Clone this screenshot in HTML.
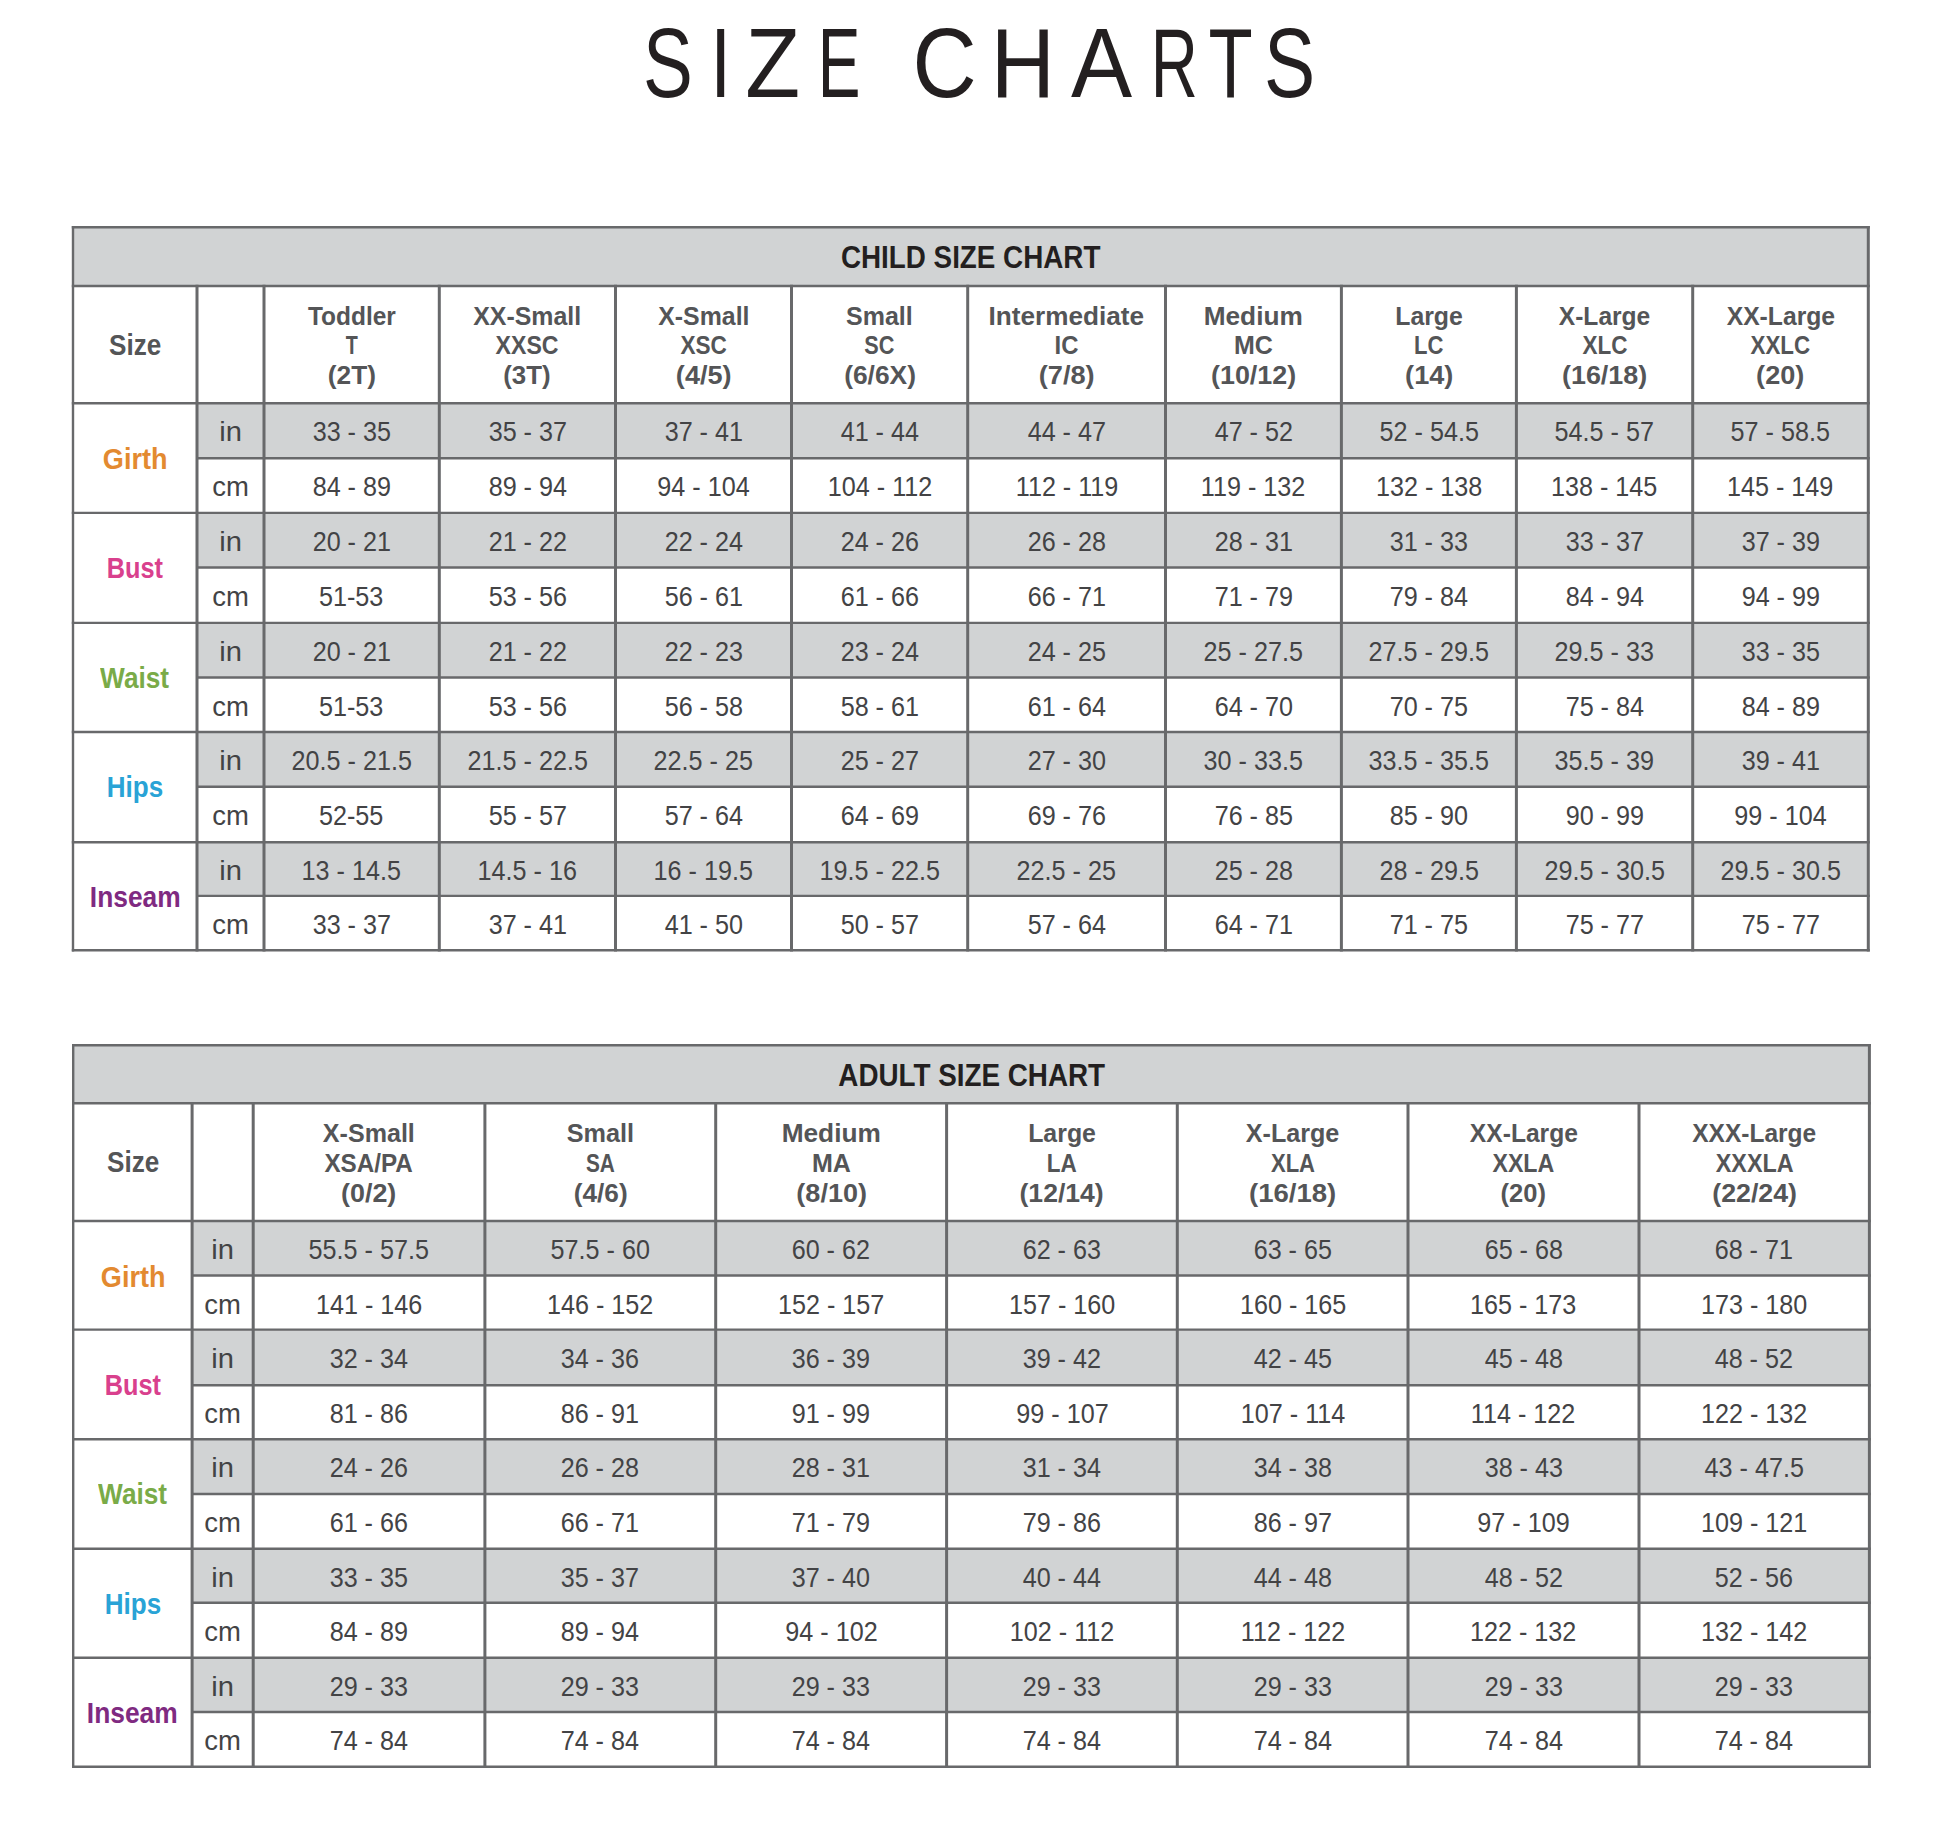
<!DOCTYPE html>
<html><head><meta charset="utf-8"><title>Size Charts</title><style>
*{margin:0;padding:0;box-sizing:border-box}
html,body{width:1946px;height:1826px;background:#fff;overflow:hidden}
body{position:relative;font-family:"Liberation Sans",sans-serif}
.r{position:absolute}
.t{position:absolute;width:500px;text-align:center;white-space:pre;}
.t span{display:inline-block;transform-origin:50% 50%}
.head{font-size:31.0px;line-height:31.0px;font-weight:700}
.hdr{font-size:25.0px;line-height:25.0px;font-weight:700}
.size{font-size:29.2px;line-height:29.2px;font-weight:700}
.lbl{font-size:28.6px;line-height:28.6px;font-weight:700}
.data{font-size:27.5px;line-height:27.5px;font-weight:400}
.unit{font-size:27.5px;line-height:27.5px;font-weight:400}
h1{position:absolute;left:642.22px;top:14.1px;white-space:pre;font-weight:400;font-size:98.6px;line-height:98.6px;color:#231f20}
h1 span{display:inline-block}
</style></head>
<body>
<h1><span style="width:66.08px;transform-origin:4.48px 0;transform:scaleX(0.7575)">S</span><span style="width:36.57px;transform-origin:9.10px 0;transform:scaleX(0.7612)">I</span><span style="width:69.94px;transform-origin:3.13px 0;transform:scaleX(0.9108)">Z</span><span style="width:69.39px;transform-origin:8.09px 0;transform:scaleX(0.6493)">E</span> <span style="width:78.62px;transform-origin:5.01px 0;transform:scaleX(0.9016)">C</span><span style="width:80.80px;transform-origin:8.09px 0;transform:scaleX(0.9024)">H</span><span style="width:77.20px;transform-origin:0.19px 0;transform:scaleX(0.9299)">A</span><span style="width:59.97px;transform-origin:8.09px 0;transform:scaleX(0.6610)">R</span><span style="width:55.24px;transform-origin:2.21px 0;transform:scaleX(0.7336)">T</span><span style="width:60.00px;transform-origin:4.48px 0;transform:scaleX(0.7787)">S</span></h1>
<div class="r" style="left:73px;top:227px;width:1795px;height:59px;background:#d1d3d4"></div><div class="r" style="left:197px;top:403px;width:1671px;height:55px;background:#d1d3d4"></div><div class="r" style="left:197px;top:513px;width:1671px;height:55px;background:#d1d3d4"></div><div class="r" style="left:197px;top:623px;width:1671px;height:55px;background:#d1d3d4"></div><div class="r" style="left:197px;top:732px;width:1671px;height:55px;background:#d1d3d4"></div><div class="r" style="left:197px;top:842px;width:1671px;height:54px;background:#d1d3d4"></div><div class="r" style="left:73px;top:1045px;width:1796px;height:58px;background:#d1d3d4"></div><div class="r" style="left:192px;top:1221px;width:1677px;height:55px;background:#d1d3d4"></div><div class="r" style="left:192px;top:1330px;width:1677px;height:55px;background:#d1d3d4"></div><div class="r" style="left:192px;top:1439px;width:1677px;height:55px;background:#d1d3d4"></div><div class="r" style="left:192px;top:1549px;width:1677px;height:54px;background:#d1d3d4"></div><div class="r" style="left:192px;top:1658px;width:1677px;height:54px;background:#d1d3d4"></div><svg width="1946" height="1826" style="position:absolute;left:0;top:0" stroke="#68696b"><line x1="71.80" y1="227.30" x2="1869.80" y2="227.30" stroke-width="2.4"/><line x1="71.80" y1="286.00" x2="1869.80" y2="286.00" stroke-width="2.4"/><line x1="71.80" y1="403.30" x2="1869.80" y2="403.30" stroke-width="2.4"/><line x1="197.00" y1="458.20" x2="1869.80" y2="458.20" stroke-width="2.4"/><line x1="71.80" y1="512.90" x2="1869.80" y2="512.90" stroke-width="2.4"/><line x1="197.00" y1="567.50" x2="1869.80" y2="567.50" stroke-width="2.4"/><line x1="71.80" y1="622.90" x2="1869.80" y2="622.90" stroke-width="2.4"/><line x1="197.00" y1="677.50" x2="1869.80" y2="677.50" stroke-width="2.4"/><line x1="71.80" y1="732.00" x2="1869.80" y2="732.00" stroke-width="2.4"/><line x1="197.00" y1="786.70" x2="1869.80" y2="786.70" stroke-width="2.4"/><line x1="71.80" y1="842.20" x2="1869.80" y2="842.20" stroke-width="2.4"/><line x1="197.00" y1="895.90" x2="1869.80" y2="895.90" stroke-width="2.4"/><line x1="71.80" y1="950.30" x2="1869.80" y2="950.30" stroke-width="2.4"/><line x1="73.00" y1="226.10" x2="73.00" y2="951.50" stroke-width="2.4"/><line x1="197.00" y1="284.80" x2="197.00" y2="951.50" stroke-width="3.0"/><line x1="264.00" y1="284.80" x2="264.00" y2="951.50" stroke-width="3.0"/><line x1="439.30" y1="284.80" x2="439.30" y2="951.50" stroke-width="3.0"/><line x1="615.50" y1="284.80" x2="615.50" y2="951.50" stroke-width="3.0"/><line x1="791.50" y1="284.80" x2="791.50" y2="951.50" stroke-width="3.0"/><line x1="967.70" y1="284.80" x2="967.70" y2="951.50" stroke-width="3.0"/><line x1="1165.50" y1="284.80" x2="1165.50" y2="951.50" stroke-width="3.0"/><line x1="1341.40" y1="284.80" x2="1341.40" y2="951.50" stroke-width="3.0"/><line x1="1516.40" y1="284.80" x2="1516.40" y2="951.50" stroke-width="3.0"/><line x1="1692.70" y1="284.80" x2="1692.70" y2="951.50" stroke-width="3.0"/><line x1="1868.30" y1="226.10" x2="1868.30" y2="951.50" stroke-width="3.0"/><line x1="72.00" y1="1045.20" x2="1870.90" y2="1045.20" stroke-width="2.4"/><line x1="72.00" y1="1103.30" x2="1870.90" y2="1103.30" stroke-width="2.4"/><line x1="72.00" y1="1221.00" x2="1870.90" y2="1221.00" stroke-width="2.4"/><line x1="192.10" y1="1275.50" x2="1870.90" y2="1275.50" stroke-width="2.4"/><line x1="72.00" y1="1329.60" x2="1870.90" y2="1329.60" stroke-width="2.4"/><line x1="192.10" y1="1385.30" x2="1870.90" y2="1385.30" stroke-width="2.4"/><line x1="72.00" y1="1439.30" x2="1870.90" y2="1439.30" stroke-width="2.4"/><line x1="192.10" y1="1494.00" x2="1870.90" y2="1494.00" stroke-width="2.4"/><line x1="72.00" y1="1548.70" x2="1870.90" y2="1548.70" stroke-width="2.4"/><line x1="192.10" y1="1602.80" x2="1870.90" y2="1602.80" stroke-width="2.4"/><line x1="72.00" y1="1657.80" x2="1870.90" y2="1657.80" stroke-width="2.4"/><line x1="192.10" y1="1712.00" x2="1870.90" y2="1712.00" stroke-width="2.4"/><line x1="72.00" y1="1766.70" x2="1870.90" y2="1766.70" stroke-width="2.4"/><line x1="73.20" y1="1044.00" x2="73.20" y2="1767.90" stroke-width="2.4"/><line x1="192.10" y1="1102.10" x2="192.10" y2="1767.90" stroke-width="3.0"/><line x1="253.20" y1="1102.10" x2="253.20" y2="1767.90" stroke-width="3.0"/><line x1="484.90" y1="1102.10" x2="484.90" y2="1767.90" stroke-width="3.0"/><line x1="715.70" y1="1102.10" x2="715.70" y2="1767.90" stroke-width="3.0"/><line x1="946.60" y1="1102.10" x2="946.60" y2="1767.90" stroke-width="3.0"/><line x1="1177.30" y1="1102.10" x2="1177.30" y2="1767.90" stroke-width="3.0"/><line x1="1408.00" y1="1102.10" x2="1408.00" y2="1767.90" stroke-width="3.0"/><line x1="1639.00" y1="1102.10" x2="1639.00" y2="1767.90" stroke-width="3.0"/><line x1="1869.40" y1="1044.00" x2="1869.40" y2="1767.90" stroke-width="3.0"/></svg>
<div class="t head" style="left:720.6px;top:241.9px;color:#231f20"><span style="transform:scaleX(0.897)">CHILD SIZE CHART</span></div><div class="t size" style="left:-115.0px;top:330.7px;color:#545557"><span style="transform:scaleX(0.895)">Size</span></div><div class="t hdr" style="left:101.6px;top:304.3px;color:#545557"><span style="transform:scaleX(0.9784)">Toddler</span></div><div class="t hdr" style="left:101.6px;top:333.3px;color:#545557"><span style="transform:scaleX(0.787)">T</span></div><div class="t hdr" style="left:101.6px;top:363.0px;color:#545557"><span style="transform:scaleX(1.0516)">(2T)</span></div><div class="t hdr" style="left:277.4px;top:304.3px;color:#545557"><span style="transform:scaleX(0.9958)">XX-Small</span></div><div class="t hdr" style="left:277.4px;top:333.3px;color:#545557"><span style="transform:scaleX(0.924)">XXSC</span></div><div class="t hdr" style="left:277.4px;top:363.0px;color:#545557"><span style="transform:scaleX(1.033)">(3T)</span></div><div class="t hdr" style="left:453.5px;top:304.3px;color:#545557"><span style="transform:scaleX(0.9952)">X-Small</span></div><div class="t hdr" style="left:453.5px;top:333.3px;color:#545557"><span style="transform:scaleX(0.9034)">XSC</span></div><div class="t hdr" style="left:453.5px;top:363.0px;color:#545557"><span style="transform:scaleX(1.0827)">(4/5)</span></div><div class="t hdr" style="left:629.6px;top:304.3px;color:#545557"><span style="transform:scaleX(0.9986)">Small</span></div><div class="t hdr" style="left:629.6px;top:333.3px;color:#545557"><span style="transform:scaleX(0.8649)">SC</span></div><div class="t hdr" style="left:629.6px;top:363.0px;color:#545557"><span style="transform:scaleX(1.0542)">(6/6X)</span></div><div class="t hdr" style="left:816.6px;top:304.3px;color:#545557"><span style="transform:scaleX(1.0457)">Intermediate</span></div><div class="t hdr" style="left:816.6px;top:333.3px;color:#545557"><span style="transform:scaleX(0.9528)">IC</span></div><div class="t hdr" style="left:816.6px;top:363.0px;color:#545557"><span style="transform:scaleX(1.0867)">(7/8)</span></div><div class="t hdr" style="left:1003.5px;top:304.3px;color:#545557"><span style="transform:scaleX(1.0484)">Medium</span></div><div class="t hdr" style="left:1003.5px;top:333.3px;color:#545557"><span style="transform:scaleX(1.0001)">MC</span></div><div class="t hdr" style="left:1003.5px;top:363.0px;color:#545557"><span style="transform:scaleX(1.0751)">(10/12)</span></div><div class="t hdr" style="left:1178.9px;top:304.3px;color:#545557"><span style="transform:scaleX(0.9936)">Large</span></div><div class="t hdr" style="left:1178.9px;top:333.3px;color:#545557"><span style="transform:scaleX(0.8807)">LC</span></div><div class="t hdr" style="left:1178.9px;top:363.0px;color:#545557"><span style="transform:scaleX(1.0844)">(14)</span></div><div class="t hdr" style="left:1354.6px;top:304.3px;color:#545557"><span style="transform:scaleX(0.9827)">X-Large</span></div><div class="t hdr" style="left:1354.6px;top:333.3px;color:#545557"><span style="transform:scaleX(0.8982)">XLC</span></div><div class="t hdr" style="left:1354.6px;top:363.0px;color:#545557"><span style="transform:scaleX(1.0751)">(16/18)</span></div><div class="t hdr" style="left:1530.5px;top:304.3px;color:#545557"><span style="transform:scaleX(0.988)">XX-Large</span></div><div class="t hdr" style="left:1530.5px;top:333.3px;color:#545557"><span style="transform:scaleX(0.8927)">XXLC</span></div><div class="t hdr" style="left:1530.5px;top:363.0px;color:#545557"><span style="transform:scaleX(1.0844)">(20)</span></div><div class="t unit" style="left:-19.5px;top:418.4px;color:#434345"><span style="transform:scaleX(1.06)">in</span></div><div class="t data" style="left:101.6px;top:418.4px;color:#434345"><span style="transform:scaleX(0.915)">33 - 35</span></div><div class="t data" style="left:277.4px;top:418.4px;color:#434345"><span style="transform:scaleX(0.915)">35 - 37</span></div><div class="t data" style="left:453.5px;top:418.4px;color:#434345"><span style="transform:scaleX(0.915)">37 - 41</span></div><div class="t data" style="left:629.6px;top:418.4px;color:#434345"><span style="transform:scaleX(0.915)">41 - 44</span></div><div class="t data" style="left:816.6px;top:418.4px;color:#434345"><span style="transform:scaleX(0.915)">44 - 47</span></div><div class="t data" style="left:1003.5px;top:418.4px;color:#434345"><span style="transform:scaleX(0.915)">47 - 52</span></div><div class="t data" style="left:1178.9px;top:418.4px;color:#434345"><span style="transform:scaleX(0.915)">52 - 54.5</span></div><div class="t data" style="left:1354.6px;top:418.4px;color:#434345"><span style="transform:scaleX(0.915)">54.5 - 57</span></div><div class="t data" style="left:1530.5px;top:418.4px;color:#434345"><span style="transform:scaleX(0.915)">57 - 58.5</span></div><div class="t unit" style="left:-19.5px;top:473.3px;color:#434345"><span style="transform:scaleX(1.0)">cm</span></div><div class="t data" style="left:101.6px;top:473.3px;color:#434345"><span style="transform:scaleX(0.915)">84 - 89</span></div><div class="t data" style="left:277.4px;top:473.3px;color:#434345"><span style="transform:scaleX(0.915)">89 - 94</span></div><div class="t data" style="left:453.5px;top:473.3px;color:#434345"><span style="transform:scaleX(0.915)">94 - 104</span></div><div class="t data" style="left:629.6px;top:473.3px;color:#434345"><span style="transform:scaleX(0.915)">104 - 112</span></div><div class="t data" style="left:816.6px;top:473.3px;color:#434345"><span style="transform:scaleX(0.915)">112 - 119</span></div><div class="t data" style="left:1003.5px;top:473.3px;color:#434345"><span style="transform:scaleX(0.915)">119 - 132</span></div><div class="t data" style="left:1178.9px;top:473.3px;color:#434345"><span style="transform:scaleX(0.915)">132 - 138</span></div><div class="t data" style="left:1354.6px;top:473.3px;color:#434345"><span style="transform:scaleX(0.915)">138 - 145</span></div><div class="t data" style="left:1530.5px;top:473.3px;color:#434345"><span style="transform:scaleX(0.915)">145 - 149</span></div><div class="t unit" style="left:-19.5px;top:528.0px;color:#434345"><span style="transform:scaleX(1.06)">in</span></div><div class="t data" style="left:101.6px;top:528.0px;color:#434345"><span style="transform:scaleX(0.915)">20 - 21</span></div><div class="t data" style="left:277.4px;top:528.0px;color:#434345"><span style="transform:scaleX(0.915)">21 - 22</span></div><div class="t data" style="left:453.5px;top:528.0px;color:#434345"><span style="transform:scaleX(0.915)">22 - 24</span></div><div class="t data" style="left:629.6px;top:528.0px;color:#434345"><span style="transform:scaleX(0.915)">24 - 26</span></div><div class="t data" style="left:816.6px;top:528.0px;color:#434345"><span style="transform:scaleX(0.915)">26 - 28</span></div><div class="t data" style="left:1003.5px;top:528.0px;color:#434345"><span style="transform:scaleX(0.915)">28 - 31</span></div><div class="t data" style="left:1178.9px;top:528.0px;color:#434345"><span style="transform:scaleX(0.915)">31 - 33</span></div><div class="t data" style="left:1354.6px;top:528.0px;color:#434345"><span style="transform:scaleX(0.915)">33 - 37</span></div><div class="t data" style="left:1530.5px;top:528.0px;color:#434345"><span style="transform:scaleX(0.915)">37 - 39</span></div><div class="t unit" style="left:-19.5px;top:582.6px;color:#434345"><span style="transform:scaleX(1.0)">cm</span></div><div class="t data" style="left:101.6px;top:582.6px;color:#434345"><span style="transform:scaleX(0.915)">51-53</span></div><div class="t data" style="left:277.4px;top:582.6px;color:#434345"><span style="transform:scaleX(0.915)">53 - 56</span></div><div class="t data" style="left:453.5px;top:582.6px;color:#434345"><span style="transform:scaleX(0.915)">56 - 61</span></div><div class="t data" style="left:629.6px;top:582.6px;color:#434345"><span style="transform:scaleX(0.915)">61 - 66</span></div><div class="t data" style="left:816.6px;top:582.6px;color:#434345"><span style="transform:scaleX(0.915)">66 - 71</span></div><div class="t data" style="left:1003.5px;top:582.6px;color:#434345"><span style="transform:scaleX(0.915)">71 - 79</span></div><div class="t data" style="left:1178.9px;top:582.6px;color:#434345"><span style="transform:scaleX(0.915)">79 - 84</span></div><div class="t data" style="left:1354.6px;top:582.6px;color:#434345"><span style="transform:scaleX(0.915)">84 - 94</span></div><div class="t data" style="left:1530.5px;top:582.6px;color:#434345"><span style="transform:scaleX(0.915)">94 - 99</span></div><div class="t unit" style="left:-19.5px;top:638.0px;color:#434345"><span style="transform:scaleX(1.06)">in</span></div><div class="t data" style="left:101.6px;top:638.0px;color:#434345"><span style="transform:scaleX(0.915)">20 - 21</span></div><div class="t data" style="left:277.4px;top:638.0px;color:#434345"><span style="transform:scaleX(0.915)">21 - 22</span></div><div class="t data" style="left:453.5px;top:638.0px;color:#434345"><span style="transform:scaleX(0.915)">22 - 23</span></div><div class="t data" style="left:629.6px;top:638.0px;color:#434345"><span style="transform:scaleX(0.915)">23 - 24</span></div><div class="t data" style="left:816.6px;top:638.0px;color:#434345"><span style="transform:scaleX(0.915)">24 - 25</span></div><div class="t data" style="left:1003.5px;top:638.0px;color:#434345"><span style="transform:scaleX(0.915)">25 - 27.5</span></div><div class="t data" style="left:1178.9px;top:638.0px;color:#434345"><span style="transform:scaleX(0.915)">27.5 - 29.5</span></div><div class="t data" style="left:1354.6px;top:638.0px;color:#434345"><span style="transform:scaleX(0.915)">29.5 - 33</span></div><div class="t data" style="left:1530.5px;top:638.0px;color:#434345"><span style="transform:scaleX(0.915)">33 - 35</span></div><div class="t unit" style="left:-19.5px;top:692.6px;color:#434345"><span style="transform:scaleX(1.0)">cm</span></div><div class="t data" style="left:101.6px;top:692.6px;color:#434345"><span style="transform:scaleX(0.915)">51-53</span></div><div class="t data" style="left:277.4px;top:692.6px;color:#434345"><span style="transform:scaleX(0.915)">53 - 56</span></div><div class="t data" style="left:453.5px;top:692.6px;color:#434345"><span style="transform:scaleX(0.915)">56 - 58</span></div><div class="t data" style="left:629.6px;top:692.6px;color:#434345"><span style="transform:scaleX(0.915)">58 - 61</span></div><div class="t data" style="left:816.6px;top:692.6px;color:#434345"><span style="transform:scaleX(0.915)">61 - 64</span></div><div class="t data" style="left:1003.5px;top:692.6px;color:#434345"><span style="transform:scaleX(0.915)">64 - 70</span></div><div class="t data" style="left:1178.9px;top:692.6px;color:#434345"><span style="transform:scaleX(0.915)">70 - 75</span></div><div class="t data" style="left:1354.6px;top:692.6px;color:#434345"><span style="transform:scaleX(0.915)">75 - 84</span></div><div class="t data" style="left:1530.5px;top:692.6px;color:#434345"><span style="transform:scaleX(0.915)">84 - 89</span></div><div class="t unit" style="left:-19.5px;top:747.1px;color:#434345"><span style="transform:scaleX(1.06)">in</span></div><div class="t data" style="left:101.6px;top:747.1px;color:#434345"><span style="transform:scaleX(0.915)">20.5 - 21.5</span></div><div class="t data" style="left:277.4px;top:747.1px;color:#434345"><span style="transform:scaleX(0.915)">21.5 - 22.5</span></div><div class="t data" style="left:453.5px;top:747.1px;color:#434345"><span style="transform:scaleX(0.915)">22.5 - 25</span></div><div class="t data" style="left:629.6px;top:747.1px;color:#434345"><span style="transform:scaleX(0.915)">25 - 27</span></div><div class="t data" style="left:816.6px;top:747.1px;color:#434345"><span style="transform:scaleX(0.915)">27 - 30</span></div><div class="t data" style="left:1003.5px;top:747.1px;color:#434345"><span style="transform:scaleX(0.915)">30 - 33.5</span></div><div class="t data" style="left:1178.9px;top:747.1px;color:#434345"><span style="transform:scaleX(0.915)">33.5 - 35.5</span></div><div class="t data" style="left:1354.6px;top:747.1px;color:#434345"><span style="transform:scaleX(0.915)">35.5 - 39</span></div><div class="t data" style="left:1530.5px;top:747.1px;color:#434345"><span style="transform:scaleX(0.915)">39 - 41</span></div><div class="t unit" style="left:-19.5px;top:801.8px;color:#434345"><span style="transform:scaleX(1.0)">cm</span></div><div class="t data" style="left:101.6px;top:801.8px;color:#434345"><span style="transform:scaleX(0.915)">52-55</span></div><div class="t data" style="left:277.4px;top:801.8px;color:#434345"><span style="transform:scaleX(0.915)">55 - 57</span></div><div class="t data" style="left:453.5px;top:801.8px;color:#434345"><span style="transform:scaleX(0.915)">57 - 64</span></div><div class="t data" style="left:629.6px;top:801.8px;color:#434345"><span style="transform:scaleX(0.915)">64 - 69</span></div><div class="t data" style="left:816.6px;top:801.8px;color:#434345"><span style="transform:scaleX(0.915)">69 - 76</span></div><div class="t data" style="left:1003.5px;top:801.8px;color:#434345"><span style="transform:scaleX(0.915)">76 - 85</span></div><div class="t data" style="left:1178.9px;top:801.8px;color:#434345"><span style="transform:scaleX(0.915)">85 - 90</span></div><div class="t data" style="left:1354.6px;top:801.8px;color:#434345"><span style="transform:scaleX(0.915)">90 - 99</span></div><div class="t data" style="left:1530.5px;top:801.8px;color:#434345"><span style="transform:scaleX(0.915)">99 - 104</span></div><div class="t unit" style="left:-19.5px;top:857.3px;color:#434345"><span style="transform:scaleX(1.06)">in</span></div><div class="t data" style="left:101.6px;top:857.3px;color:#434345"><span style="transform:scaleX(0.915)">13 - 14.5</span></div><div class="t data" style="left:277.4px;top:857.3px;color:#434345"><span style="transform:scaleX(0.915)">14.5 - 16</span></div><div class="t data" style="left:453.5px;top:857.3px;color:#434345"><span style="transform:scaleX(0.915)">16 - 19.5</span></div><div class="t data" style="left:629.6px;top:857.3px;color:#434345"><span style="transform:scaleX(0.915)">19.5 - 22.5</span></div><div class="t data" style="left:816.6px;top:857.3px;color:#434345"><span style="transform:scaleX(0.915)">22.5 - 25</span></div><div class="t data" style="left:1003.5px;top:857.3px;color:#434345"><span style="transform:scaleX(0.915)">25 - 28</span></div><div class="t data" style="left:1178.9px;top:857.3px;color:#434345"><span style="transform:scaleX(0.915)">28 - 29.5</span></div><div class="t data" style="left:1354.6px;top:857.3px;color:#434345"><span style="transform:scaleX(0.915)">29.5 - 30.5</span></div><div class="t data" style="left:1530.5px;top:857.3px;color:#434345"><span style="transform:scaleX(0.915)">29.5 - 30.5</span></div><div class="t unit" style="left:-19.5px;top:911.0px;color:#434345"><span style="transform:scaleX(1.0)">cm</span></div><div class="t data" style="left:101.6px;top:911.0px;color:#434345"><span style="transform:scaleX(0.915)">33 - 37</span></div><div class="t data" style="left:277.4px;top:911.0px;color:#434345"><span style="transform:scaleX(0.915)">37 - 41</span></div><div class="t data" style="left:453.5px;top:911.0px;color:#434345"><span style="transform:scaleX(0.915)">41 - 50</span></div><div class="t data" style="left:629.6px;top:911.0px;color:#434345"><span style="transform:scaleX(0.915)">50 - 57</span></div><div class="t data" style="left:816.6px;top:911.0px;color:#434345"><span style="transform:scaleX(0.915)">57 - 64</span></div><div class="t data" style="left:1003.5px;top:911.0px;color:#434345"><span style="transform:scaleX(0.915)">64 - 71</span></div><div class="t data" style="left:1178.9px;top:911.0px;color:#434345"><span style="transform:scaleX(0.915)">71 - 75</span></div><div class="t data" style="left:1354.6px;top:911.0px;color:#434345"><span style="transform:scaleX(0.915)">75 - 77</span></div><div class="t data" style="left:1530.5px;top:911.0px;color:#434345"><span style="transform:scaleX(0.915)">75 - 77</span></div><div class="t lbl" style="left:-115.0px;top:445.1px;color:#e38a30"><span style="transform:scaleX(0.946)">Girth</span></div><div class="t lbl" style="left:-115.0px;top:553.9px;color:#d9408d"><span style="transform:scaleX(0.885)">Bust</span></div><div class="t lbl" style="left:-115.0px;top:663.9px;color:#7aab48"><span style="transform:scaleX(0.917)">Waist</span></div><div class="t lbl" style="left:-115.0px;top:773.0px;color:#29a3d6"><span style="transform:scaleX(0.91)">Hips</span></div><div class="t lbl" style="left:-115.0px;top:883.2px;color:#7f2a81"><span style="transform:scaleX(0.922)">Inseam</span></div><div class="t head" style="left:721.3px;top:1059.9px;color:#231f20"><span style="transform:scaleX(0.897)">ADULT SIZE CHART</span></div><div class="t size" style="left:-117.3px;top:1148.3px;color:#545557"><span style="transform:scaleX(0.895)">Size</span></div><div class="t hdr" style="left:119.0px;top:1121.2px;color:#545557"><span style="transform:scaleX(1.003)">X-Small</span></div><div class="t hdr" style="left:119.0px;top:1151.1px;color:#545557"><span style="transform:scaleX(0.9694)">XSA/PA</span></div><div class="t hdr" style="left:119.0px;top:1181.1px;color:#545557"><span style="transform:scaleX(1.0745)">(0/2)</span></div><div class="t hdr" style="left:350.3px;top:1121.2px;color:#545557"><span style="transform:scaleX(1.0096)">Small</span></div><div class="t hdr" style="left:350.3px;top:1151.1px;color:#545557"><span style="transform:scaleX(0.8318)">SA</span></div><div class="t hdr" style="left:350.3px;top:1181.1px;color:#545557"><span style="transform:scaleX(1.0481)">(4/6)</span></div><div class="t hdr" style="left:581.2px;top:1121.2px;color:#545557"><span style="transform:scaleX(1.0495)">Medium</span></div><div class="t hdr" style="left:581.2px;top:1151.1px;color:#545557"><span style="transform:scaleX(1.0021)">MA</span></div><div class="t hdr" style="left:581.2px;top:1181.1px;color:#545557"><span style="transform:scaleX(1.0805)">(8/10)</span></div><div class="t hdr" style="left:812.0px;top:1121.2px;color:#545557"><span style="transform:scaleX(0.9951)">Large</span></div><div class="t hdr" style="left:812.0px;top:1151.1px;color:#545557"><span style="transform:scaleX(0.9002)">LA</span></div><div class="t hdr" style="left:812.0px;top:1181.1px;color:#545557"><span style="transform:scaleX(1.0634)">(12/14)</span></div><div class="t hdr" style="left:1042.7px;top:1121.2px;color:#545557"><span style="transform:scaleX(1.0057)">X-Large</span></div><div class="t hdr" style="left:1042.7px;top:1151.1px;color:#545557"><span style="transform:scaleX(0.8816)">XLA</span></div><div class="t hdr" style="left:1042.7px;top:1181.1px;color:#545557"><span style="transform:scaleX(1.1011)">(16/18)</span></div><div class="t hdr" style="left:1273.5px;top:1121.2px;color:#545557"><span style="transform:scaleX(0.9843)">XX-Large</span></div><div class="t hdr" style="left:1273.5px;top:1151.1px;color:#545557"><span style="transform:scaleX(0.9278)">XXLA</span></div><div class="t hdr" style="left:1273.5px;top:1181.1px;color:#545557"><span style="transform:scaleX(1.0202)">(20)</span></div><div class="t hdr" style="left:1504.2px;top:1121.2px;color:#545557"><span style="transform:scaleX(0.9806)">XXX-Large</span></div><div class="t hdr" style="left:1504.2px;top:1151.1px;color:#545557"><span style="transform:scaleX(0.9336)">XXXLA</span></div><div class="t hdr" style="left:1504.2px;top:1181.1px;color:#545557"><span style="transform:scaleX(1.0699)">(22/24)</span></div><div class="t unit" style="left:-27.4px;top:1236.1px;color:#434345"><span style="transform:scaleX(1.06)">in</span></div><div class="t data" style="left:119.0px;top:1236.1px;color:#434345"><span style="transform:scaleX(0.915)">55.5 - 57.5</span></div><div class="t data" style="left:350.3px;top:1236.1px;color:#434345"><span style="transform:scaleX(0.915)">57.5 - 60</span></div><div class="t data" style="left:581.2px;top:1236.1px;color:#434345"><span style="transform:scaleX(0.915)">60 - 62</span></div><div class="t data" style="left:812.0px;top:1236.1px;color:#434345"><span style="transform:scaleX(0.915)">62 - 63</span></div><div class="t data" style="left:1042.7px;top:1236.1px;color:#434345"><span style="transform:scaleX(0.915)">63 - 65</span></div><div class="t data" style="left:1273.5px;top:1236.1px;color:#434345"><span style="transform:scaleX(0.915)">65 - 68</span></div><div class="t data" style="left:1504.2px;top:1236.1px;color:#434345"><span style="transform:scaleX(0.915)">68 - 71</span></div><div class="t unit" style="left:-27.4px;top:1290.6px;color:#434345"><span style="transform:scaleX(1.0)">cm</span></div><div class="t data" style="left:119.0px;top:1290.6px;color:#434345"><span style="transform:scaleX(0.915)">141 - 146</span></div><div class="t data" style="left:350.3px;top:1290.6px;color:#434345"><span style="transform:scaleX(0.915)">146 - 152</span></div><div class="t data" style="left:581.2px;top:1290.6px;color:#434345"><span style="transform:scaleX(0.915)">152 - 157</span></div><div class="t data" style="left:812.0px;top:1290.6px;color:#434345"><span style="transform:scaleX(0.915)">157 - 160</span></div><div class="t data" style="left:1042.7px;top:1290.6px;color:#434345"><span style="transform:scaleX(0.915)">160 - 165</span></div><div class="t data" style="left:1273.5px;top:1290.6px;color:#434345"><span style="transform:scaleX(0.915)">165 - 173</span></div><div class="t data" style="left:1504.2px;top:1290.6px;color:#434345"><span style="transform:scaleX(0.915)">173 - 180</span></div><div class="t unit" style="left:-27.4px;top:1344.7px;color:#434345"><span style="transform:scaleX(1.06)">in</span></div><div class="t data" style="left:119.0px;top:1344.7px;color:#434345"><span style="transform:scaleX(0.915)">32 - 34</span></div><div class="t data" style="left:350.3px;top:1344.7px;color:#434345"><span style="transform:scaleX(0.915)">34 - 36</span></div><div class="t data" style="left:581.2px;top:1344.7px;color:#434345"><span style="transform:scaleX(0.915)">36 - 39</span></div><div class="t data" style="left:812.0px;top:1344.7px;color:#434345"><span style="transform:scaleX(0.915)">39 - 42</span></div><div class="t data" style="left:1042.7px;top:1344.7px;color:#434345"><span style="transform:scaleX(0.915)">42 - 45</span></div><div class="t data" style="left:1273.5px;top:1344.7px;color:#434345"><span style="transform:scaleX(0.915)">45 - 48</span></div><div class="t data" style="left:1504.2px;top:1344.7px;color:#434345"><span style="transform:scaleX(0.915)">48 - 52</span></div><div class="t unit" style="left:-27.4px;top:1400.4px;color:#434345"><span style="transform:scaleX(1.0)">cm</span></div><div class="t data" style="left:119.0px;top:1400.4px;color:#434345"><span style="transform:scaleX(0.915)">81 - 86</span></div><div class="t data" style="left:350.3px;top:1400.4px;color:#434345"><span style="transform:scaleX(0.915)">86 - 91</span></div><div class="t data" style="left:581.2px;top:1400.4px;color:#434345"><span style="transform:scaleX(0.915)">91 - 99</span></div><div class="t data" style="left:812.0px;top:1400.4px;color:#434345"><span style="transform:scaleX(0.915)">99 - 107</span></div><div class="t data" style="left:1042.7px;top:1400.4px;color:#434345"><span style="transform:scaleX(0.915)">107 - 114</span></div><div class="t data" style="left:1273.5px;top:1400.4px;color:#434345"><span style="transform:scaleX(0.915)">114 - 122</span></div><div class="t data" style="left:1504.2px;top:1400.4px;color:#434345"><span style="transform:scaleX(0.915)">122 - 132</span></div><div class="t unit" style="left:-27.4px;top:1454.4px;color:#434345"><span style="transform:scaleX(1.06)">in</span></div><div class="t data" style="left:119.0px;top:1454.4px;color:#434345"><span style="transform:scaleX(0.915)">24 - 26</span></div><div class="t data" style="left:350.3px;top:1454.4px;color:#434345"><span style="transform:scaleX(0.915)">26 - 28</span></div><div class="t data" style="left:581.2px;top:1454.4px;color:#434345"><span style="transform:scaleX(0.915)">28 - 31</span></div><div class="t data" style="left:812.0px;top:1454.4px;color:#434345"><span style="transform:scaleX(0.915)">31 - 34</span></div><div class="t data" style="left:1042.7px;top:1454.4px;color:#434345"><span style="transform:scaleX(0.915)">34 - 38</span></div><div class="t data" style="left:1273.5px;top:1454.4px;color:#434345"><span style="transform:scaleX(0.915)">38 - 43</span></div><div class="t data" style="left:1504.2px;top:1454.4px;color:#434345"><span style="transform:scaleX(0.915)">43 - 47.5</span></div><div class="t unit" style="left:-27.4px;top:1509.1px;color:#434345"><span style="transform:scaleX(1.0)">cm</span></div><div class="t data" style="left:119.0px;top:1509.1px;color:#434345"><span style="transform:scaleX(0.915)">61 - 66</span></div><div class="t data" style="left:350.3px;top:1509.1px;color:#434345"><span style="transform:scaleX(0.915)">66 - 71</span></div><div class="t data" style="left:581.2px;top:1509.1px;color:#434345"><span style="transform:scaleX(0.915)">71 - 79</span></div><div class="t data" style="left:812.0px;top:1509.1px;color:#434345"><span style="transform:scaleX(0.915)">79 - 86</span></div><div class="t data" style="left:1042.7px;top:1509.1px;color:#434345"><span style="transform:scaleX(0.915)">86 - 97</span></div><div class="t data" style="left:1273.5px;top:1509.1px;color:#434345"><span style="transform:scaleX(0.915)">97 - 109</span></div><div class="t data" style="left:1504.2px;top:1509.1px;color:#434345"><span style="transform:scaleX(0.915)">109 - 121</span></div><div class="t unit" style="left:-27.4px;top:1563.8px;color:#434345"><span style="transform:scaleX(1.06)">in</span></div><div class="t data" style="left:119.0px;top:1563.8px;color:#434345"><span style="transform:scaleX(0.915)">33 - 35</span></div><div class="t data" style="left:350.3px;top:1563.8px;color:#434345"><span style="transform:scaleX(0.915)">35 - 37</span></div><div class="t data" style="left:581.2px;top:1563.8px;color:#434345"><span style="transform:scaleX(0.915)">37 - 40</span></div><div class="t data" style="left:812.0px;top:1563.8px;color:#434345"><span style="transform:scaleX(0.915)">40 - 44</span></div><div class="t data" style="left:1042.7px;top:1563.8px;color:#434345"><span style="transform:scaleX(0.915)">44 - 48</span></div><div class="t data" style="left:1273.5px;top:1563.8px;color:#434345"><span style="transform:scaleX(0.915)">48 - 52</span></div><div class="t data" style="left:1504.2px;top:1563.8px;color:#434345"><span style="transform:scaleX(0.915)">52 - 56</span></div><div class="t unit" style="left:-27.4px;top:1617.9px;color:#434345"><span style="transform:scaleX(1.0)">cm</span></div><div class="t data" style="left:119.0px;top:1617.9px;color:#434345"><span style="transform:scaleX(0.915)">84 - 89</span></div><div class="t data" style="left:350.3px;top:1617.9px;color:#434345"><span style="transform:scaleX(0.915)">89 - 94</span></div><div class="t data" style="left:581.2px;top:1617.9px;color:#434345"><span style="transform:scaleX(0.915)">94 - 102</span></div><div class="t data" style="left:812.0px;top:1617.9px;color:#434345"><span style="transform:scaleX(0.915)">102 - 112</span></div><div class="t data" style="left:1042.7px;top:1617.9px;color:#434345"><span style="transform:scaleX(0.915)">112 - 122</span></div><div class="t data" style="left:1273.5px;top:1617.9px;color:#434345"><span style="transform:scaleX(0.915)">122 - 132</span></div><div class="t data" style="left:1504.2px;top:1617.9px;color:#434345"><span style="transform:scaleX(0.915)">132 - 142</span></div><div class="t unit" style="left:-27.4px;top:1672.9px;color:#434345"><span style="transform:scaleX(1.06)">in</span></div><div class="t data" style="left:119.0px;top:1672.9px;color:#434345"><span style="transform:scaleX(0.915)">29 - 33</span></div><div class="t data" style="left:350.3px;top:1672.9px;color:#434345"><span style="transform:scaleX(0.915)">29 - 33</span></div><div class="t data" style="left:581.2px;top:1672.9px;color:#434345"><span style="transform:scaleX(0.915)">29 - 33</span></div><div class="t data" style="left:812.0px;top:1672.9px;color:#434345"><span style="transform:scaleX(0.915)">29 - 33</span></div><div class="t data" style="left:1042.7px;top:1672.9px;color:#434345"><span style="transform:scaleX(0.915)">29 - 33</span></div><div class="t data" style="left:1273.5px;top:1672.9px;color:#434345"><span style="transform:scaleX(0.915)">29 - 33</span></div><div class="t data" style="left:1504.2px;top:1672.9px;color:#434345"><span style="transform:scaleX(0.915)">29 - 33</span></div><div class="t unit" style="left:-27.4px;top:1727.1px;color:#434345"><span style="transform:scaleX(1.0)">cm</span></div><div class="t data" style="left:119.0px;top:1727.1px;color:#434345"><span style="transform:scaleX(0.915)">74 - 84</span></div><div class="t data" style="left:350.3px;top:1727.1px;color:#434345"><span style="transform:scaleX(0.915)">74 - 84</span></div><div class="t data" style="left:581.2px;top:1727.1px;color:#434345"><span style="transform:scaleX(0.915)">74 - 84</span></div><div class="t data" style="left:812.0px;top:1727.1px;color:#434345"><span style="transform:scaleX(0.915)">74 - 84</span></div><div class="t data" style="left:1042.7px;top:1727.1px;color:#434345"><span style="transform:scaleX(0.915)">74 - 84</span></div><div class="t data" style="left:1273.5px;top:1727.1px;color:#434345"><span style="transform:scaleX(0.915)">74 - 84</span></div><div class="t data" style="left:1504.2px;top:1727.1px;color:#434345"><span style="transform:scaleX(0.915)">74 - 84</span></div><div class="t lbl" style="left:-117.3px;top:1262.8px;color:#e38a30"><span style="transform:scaleX(0.946)">Girth</span></div><div class="t lbl" style="left:-117.3px;top:1370.6px;color:#d9408d"><span style="transform:scaleX(0.885)">Bust</span></div><div class="t lbl" style="left:-117.3px;top:1480.3px;color:#7aab48"><span style="transform:scaleX(0.917)">Waist</span></div><div class="t lbl" style="left:-117.3px;top:1589.7px;color:#29a3d6"><span style="transform:scaleX(0.91)">Hips</span></div><div class="t lbl" style="left:-117.3px;top:1698.8px;color:#7f2a81"><span style="transform:scaleX(0.922)">Inseam</span></div>
</body></html>
